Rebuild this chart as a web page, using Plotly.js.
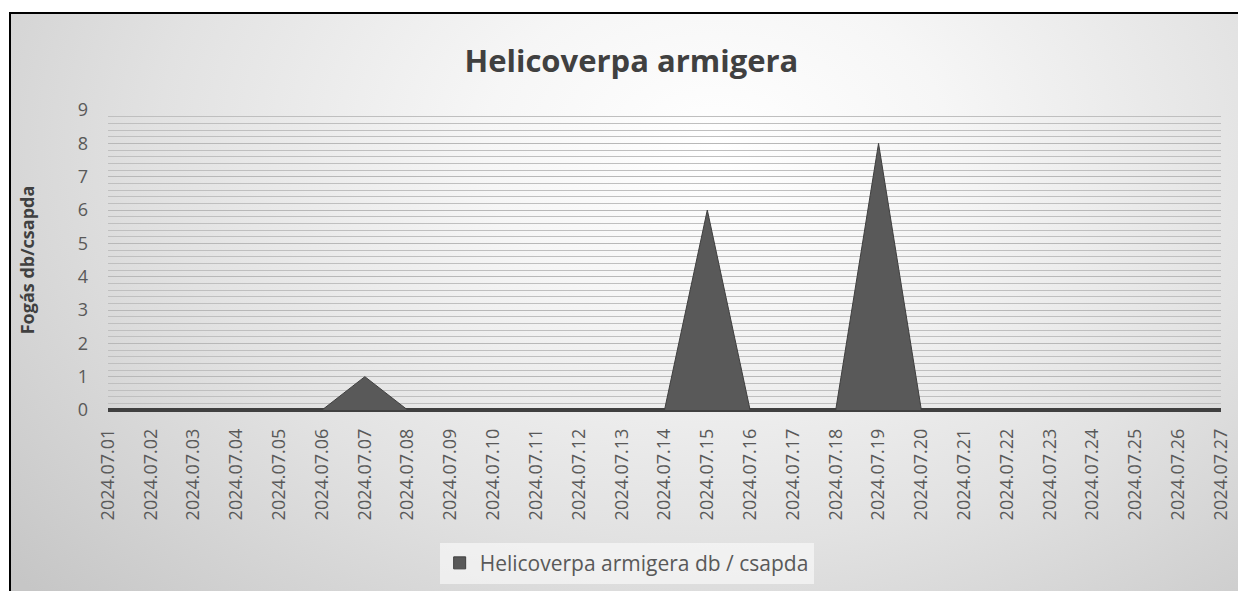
<!DOCTYPE html>
<html>
<head>
<meta charset="utf-8">
<script src="https://cdn.plot.ly/plotly-3.0.1.min.js"></script>
<style>
  html, body { margin:0; padding:0; background:#ffffff; width:1238px; height:591px; overflow:hidden; }
  #frame { position:absolute; left:9px; top:12px; width:1240px; height:600px;
    border-left:2px solid #000; border-top:2px solid #000; box-sizing:border-box;
    background: radial-gradient(ellipse 75% 110% at 57% 22%, #ffffff 0%, #f6f6f6 25%, #e2e2e2 60%, #c6c6c6 100%); }
  #chart { position:absolute; left:0; top:0; width:1238px; height:591px; }
  #chart .legend .traces { opacity: 1 !important; }
</style>
</head>
<body>
<div id="frame"></div>
<div id="chart"></div>
<script>
const categories = ["2024.07.01","2024.07.02","2024.07.03","2024.07.04","2024.07.05","2024.07.06","2024.07.07","2024.07.08","2024.07.09","2024.07.10","2024.07.11","2024.07.12","2024.07.13","2024.07.14","2024.07.15","2024.07.16","2024.07.17","2024.07.18","2024.07.19","2024.07.20","2024.07.21","2024.07.22","2024.07.23","2024.07.24","2024.07.25","2024.07.26","2024.07.27"];
const catchValues = [0,0,0,0,0,0,1,0,0,0,0,0,0,0,6,0,0,0,8,0,0,0,0,0,0,0,0];
const yTicks = [0,1,2,3,4,5,6,7,8,9];
const seriesName = "Helicoverpa armigera db / csapda";

const font = "'Open Sans', 'DejaVu Sans', sans-serif";

const areaTrace = {
  x: categories,
  y: catchValues,
  type: 'scatter',
  mode: 'lines',
  fill: 'tozeroy',
  fillcolor: '#595959',
  line: { color: '#3f3f3f', width: 1 },
  name: seriesName,
  showlegend: false,
  hoverinfo: 'x+y'
};

// legend-only entry so the legend shows a square swatch like the original
const legendTrace = {
  x: categories,
  y: catchValues,
  type: 'bar',
  name: seriesName,
  visible: 'legendonly',
  marker: { color: '#595959', line: { color: '#3f3f3f', width: 1 } },
  showlegend: true
};

const layout = {
  width: 1238,
  height: 591,
  paper_bgcolor: 'rgba(0,0,0,0)',
  plot_bgcolor: 'rgba(0,0,0,0)',
  margin: { l: 108, r: 17, t: 110, b: 181 },
  title: {
    text: 'Helicoverpa armigera',
    font: { family: font, size: 31, color: '#404040', weight: 'bold' },
    x: 0.51, xanchor: 'center', y: 0.897, yanchor: 'middle'
  },
  xaxis: {
    type: 'category',
    range: [0, categories.length - 1],
    tickangle: -90,
    tickfont: { family: font, size: 18, color: '#595959' },
    ticklabelstandoff: 14,
    showgrid: false,
    showline: false,
    ticks: '',
    automargin: false,
    fixedrange: true
  },
  yaxis: {
    range: [0, 9],
    tickvals: yTicks,
    ticktext: yTicks.map(String),
    tickfont: { family: font, size: 18, color: '#595959' },
    ticklabelstandoff: 19,
    showgrid: true,
    gridcolor: '#b8b8b8',
    gridwidth: 1,
    minor: { dtick: 0.2, showgrid: true, gridcolor: '#bfbfbf', gridwidth: 1 },
    zeroline: true,
    zerolinecolor: '#404040',
    zerolinewidth: 4,
    showline: false,
    ticks: '',
    automargin: false,
    fixedrange: true,
    title: {
      text: 'Fogás db/csapda',
      font: { family: font, size: 18, color: '#404040', weight: 'bold' },
      standoff: 38
    }
  },
  showlegend: true,
  legend: {
    orientation: 'h',
    x: 0.466, xanchor: 'center',
    yref: 'container',
    y: 0.047, yanchor: 'middle',
    bgcolor: 'rgba(255,255,255,0.55)',
    font: { family: font, size: 21, color: '#595959' },
    itemwidth: 30
  }
};

Plotly.newPlot('chart', [areaTrace, legendTrace], layout, { displayModeBar: false, staticPlot: true });
</script>
</body>
</html>
